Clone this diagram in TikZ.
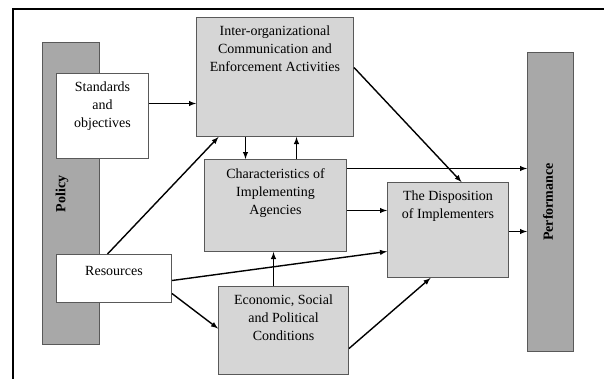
\documentclass[tikz,border=0pt]{standalone}
\usepackage{fontspec}
\setmainfont{Liberation Serif}
\usepackage{tikz}
\usetikzlibrary{arrows}

\begin{document}
\begin{tikzpicture}[x=1pt,y=-1pt]
        \definecolor{bargray}{rgb}{0.66, 0.66, 0.66}
        \definecolor{boxgray}{rgb}{0.84, 0.84, 0.84}
        \definecolor{edgegray}{rgb}{0.35, 0.35, 0.35}
        \tikzset{
          bar/.style={draw=edgegray, fill=bargray, line width=1.2pt, inner sep=0pt, anchor=north west},
          gbox/.style={draw=edgegray, fill=boxgray, line width=1pt, inner sep=0pt, anchor=north west},
          wbox/.style={draw=edgegray, fill=white, line width=1pt, inner sep=0pt, anchor=north west},
          boxtext/.style={align=center, font=\fontsize{14}{18}\selectfont, inner sep=0pt},
          bartext/.style={font=\fontsize{14}{16}\selectfont\bfseries, rotate=90, inner sep=0pt},
          arr/.style={-latex, line width=1.4pt}
        }
        \useasboundingbox (0,0) rectangle (604,378);

        %frame
        \draw[line width=2pt] (13,380) -- (13,9) -- (606,9);

        %bars
        \node[bar, minimum width=57pt, minimum height=302pt] (policy) at (42,42) {};
        \node[bar, minimum width=46pt, minimum height=299pt] (perf) at (527,52) {};
        \node[bartext] (policytext) at (62,194) {Policy};
        \node[bartext] (perftext) at (548,202) {Performance};

        %boxes
        \node[wbox, minimum width=92pt, minimum height=85pt] (std) at (56,73) {};
        \node[wbox, minimum width=115pt, minimum height=48pt] (res) at (56,254) {};
        \node[gbox, minimum width=157pt, minimum height=119pt] (inter) at (196,17) {};
        \node[gbox, minimum width=142pt, minimum height=92pt] (chars) at (204,159) {};
        \node[gbox, minimum width=130pt, minimum height=88pt] (econ) at (218,286) {};
        \node[gbox, minimum width=121pt, minimum height=95pt] (disp) at (387,182) {};

        %texts
        \node[boxtext, yshift=10pt] (stdtext) at (std.center) {Standards\\and\\objectives};
        \node[boxtext, yshift=8pt] (restext) at (res.center) {Resources};
        \node[boxtext, anchor=north, yshift=-9pt] (intertext) at (inter.north)
          {Inter-organizational\\Communication and\\Enforcement Activities};
        \node[boxtext, anchor=north, yshift=-9pt] (charstext) at (chars.north)
          {Characteristics of\\Implementing\\Agencies};
        \node[boxtext, anchor=north, yshift=-9pt] (econtext) at (econ.north)
          {Economic, Social\\and Political\\Conditions};
        \node[boxtext, anchor=north, yshift=-9pt] (disptext) at (disp.north)
          {The Disposition\\of Implementers};

        %arrows
        \draw[arr] ([yshift=12.5pt]std.east) -- ([yshift=12.5pt]std.east -| inter.west);
        \draw[arr] ([xshift=-29.5pt]inter.south) -- ([xshift=-29.5pt]inter.south |- chars.north);
        \draw[arr] ([xshift=21pt]chars.north) -- ([xshift=21pt]chars.north |- inter.south);
        \draw[arr] ([xshift=-6.5pt]res.north) -- ([xshift=-56.5pt]inter.south);
        \draw[arr] ([yshift=9.5pt]inter.east) -- ([xshift=13.5pt]disp.north);
        \draw[arr] ([yshift=37pt]chars.east) -- ([yshift=37pt]chars.east -| perf.west);
        \draw[arr] ([yshift=-5pt]chars.east) -- ([yshift=-5pt]chars.east -| disp.west);
        \draw[arr] ([yshift=-2pt]res.east) -- ([yshift=-21.5pt]disp.west);
        \draw[arr] ([yshift=-15pt]res.east) -- ([yshift=2pt]econ.west);
        \draw[arr] ([xshift=-10pt]econ.north) -- ([xshift=-10pt]econ.north |- chars.south);
        \draw[arr] ([yshift=-18pt]econ.east) -- ([xshift=-17.5pt]disp.south);
        \draw[arr] ([yshift=-1.5pt]disp.east) -- ([yshift=-1.5pt]disp.east -| perf.west);
\end{tikzpicture}
\end{document}
